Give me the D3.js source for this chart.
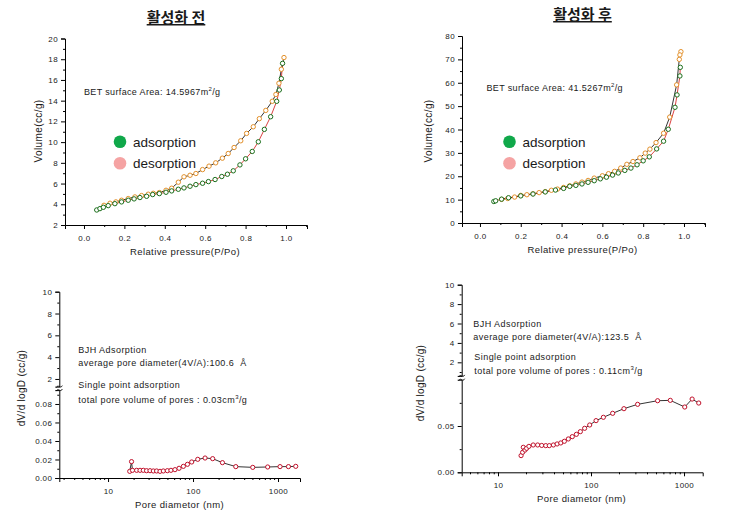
<!DOCTYPE html>
<html><head><meta charset="utf-8">
<script src="https://cdn.jsdelivr.net/npm/d3@7"></script>
<style>
body{margin:0;background:#fff}
svg{display:block}
text{font-family:"Liberation Sans",Arial,sans-serif;fill:#1a1a1a;white-space:pre}
</style>
</head><body>
<svg id="c" width="748" height="512"></svg>
<script>
// ---------------- DATA ----------------
const titles = ["활성화 전", "활성화 후"];
const legendLabels = ["adsorption", "desorption"];
const betLabels = ["BET surface Area: 14.5967m", "BET surface Area: 41.5267m"];
const pressureTicks = [0.0, 0.2, 0.4, 0.6, 0.8, 1.0];
const volTicksBefore = [2, 4, 6, 8, 10, 12, 14, 16, 18, 20];
const volTicksAfter = [0, 10, 20, 30, 40, 50, 60, 70, 80];
const poreTicks = [10, 100, 1000];
const upperTicks = [2, 4, 6, 8, 10];
const lowerTicksBefore = [0.00, 0.02, 0.04, 0.06, 0.08];
const lowerTicksAfter = [0.00, 0.05];

// 활성화 전 isotherm
const beforeAdsP = [0.063,0.079,0.096,0.12,0.153,0.186,0.219,0.248,0.277,0.31,0.34,0.373,0.406,0.434,0.467,0.495,0.525,0.554,0.587,0.616,0.649,0.682,0.71,0.739,0.772,0.8,0.833,0.863,0.893,0.924,0.954,0.967,0.977,0.983];
const beforeAdsV = [3.45,3.58,3.71,3.87,4.06,4.23,4.39,4.52,4.65,4.77,4.94,5.03,5.16,5.29,5.45,5.58,5.74,5.9,6.03,6.19,6.39,6.68,6.9,7.23,7.8,8.39,9.1,10.03,11.23,12.45,13.94,15.03,16.13,17.6];
const beforeDesP = [0.99,0.977,0.965,0.95,0.932,0.9,0.868,0.838,0.805,0.776,0.743,0.714,0.685,0.652,0.619,0.587,0.554,0.525,0.495,0.467,0.434,0.406,0.373,0.343,0.318,0.285,0.252,0.219,0.186,0.158,0.129,0.099];
const beforeDesV = [18.16,17.03,15.68,14.6,13.94,13.06,12.26,11.48,10.84,10.13,9.48,8.9,8.45,8.0,7.68,7.35,6.97,6.8,6.65,6.13,5.55,5.35,5.13,5.06,4.97,4.84,4.71,4.55,4.39,4.23,4.1,3.9];

// 활성화 후 isotherm
const afterAdsP = [0.068,0.077,0.106,0.14,0.2,0.26,0.32,0.37,0.41,0.44,0.47,0.50,0.53,0.56,0.59,0.62,0.65,0.678,0.71,0.74,0.77,0.80,0.83,0.866,0.9,0.923,0.956,0.966,0.98,0.982];
const afterAdsV = [9.2,9.5,10.2,10.8,11.6,12.4,13.3,14.1,14.8,15.7,16.1,16.7,17.4,18.1,18.9,19.6,20.5,21.4,22.5,23.5,24.9,26.6,28.3,31.7,35.0,40.1,49.5,54.8,62.9,66.6];
const afterDesP = [0.985,0.98,0.977,0.964,0.93,0.9,0.863,0.833,0.81,0.784,0.75,0.72,0.69,0.66,0.63,0.6,0.56,0.53,0.5,0.47,0.44,0.41,0.38,0.35,0.32,0.29,0.26,0.23,0.2,0.17,0.136,0.106];
const afterDesV = [73.3,71.9,70.0,59.1,45.3,38.4,34.4,31.6,29.9,27.9,26.3,25.1,23.5,22.1,21.1,20.2,19.2,18.2,17.5,16.7,15.9,15.2,14.5,14.0,13.4,13.0,12.5,12.1,11.8,11.1,10.5,10.1];

// BJH pore size distributions
const poreBeforeD = [18.0,18.9,19.4,21.7,23.8,26.0,28.4,31.2,34.1,37.3,40.9,44.7,49.9,55.0,61.3,68.5,77.0,86.0,96.5,113.7,138.6,170.3,221.9,318.6,504.5,756,1057,1327,1617];
const poreBeforeV = [0.0072,0.0177,0.0083,0.0083,0.0083,0.0083,0.0079,0.0079,0.0076,0.0076,0.0072,0.0076,0.0079,0.0083,0.009,0.0105,0.0126,0.0148,0.0173,0.0202,0.0216,0.0209,0.0166,0.0123,0.0115,0.0119,0.0123,0.0123,0.0126];
const poreAfterD = [17.7,18.4,18.7,19.5,20.3,21.5,23.9,26.7,29.5,32.6,35.6,39.4,43.2,47.3,51.7,57.0,62.9,69.6,76.8,85.4,96.8,113.3,135.8,170.9,226,317,520,712,1018,1222,1440];
const poreAfterV = [0.018,0.0216,0.027,0.024,0.0259,0.028,0.0295,0.0295,0.029,0.0288,0.0288,0.0295,0.0306,0.0317,0.0335,0.036,0.0385,0.041,0.0439,0.0475,0.0511,0.0558,0.0594,0.0637,0.0687,0.0734,0.0773,0.0777,0.0705,0.0791,0.0748];

const bjhBefore = ["BJH Adsorption", "average pore diameter(4V/A):100.6  Å", "Single point adsorption", "total pore volume of pores : 0.03cm"];
const bjhAfter = ["BJH Adsorption", "average pore diameter(4V/A):123.5  Å", "Single point adsorption", "total pore volume of pores : 0.11cm"];

// ---------------- DRAW ----------------
const svg = d3.select("#c");
const ADS = "#1b6e1b", DES = "#e3902a", PORE = "#c0102a";

function styleAxis(g){
  g.selectAll(".domain").attr("stroke","#000").attr("stroke-width",1);
  g.selectAll(".tick line").attr("stroke","#000");
  g.selectAll(".tick text").style("font-size","8px").style("letter-spacing","0.4px").attr("fill","#1a1a1a");
}
function minorAxis(g, axis){ g.call(axis); g.select(".domain").remove(); g.selectAll(".tick text").remove(); g.selectAll(".tick line").attr("stroke","#000"); }

function sup(textSel, main, s, tail){
  textSel.append("tspan").text(main);
  textSel.append("tspan").text(s).attr("dy",-4).style("font-size","6px");
  textSel.append("tspan").text(tail).attr("dy",4);
}

function isotherm(o){
  const g = svg.append("g");
  const x = d3.scaleLinear().domain(o.xd).range(o.xr);
  const y = d3.scaleLinear().domain(o.yd).range(o.yr);
  g.append("text").attr("x",o.tx).attr("y",o.ty).attr("text-anchor","middle")
    .style("font-family","'Noto Sans CJK KR',sans-serif").style("font-size","15px").style("font-weight","bold")
    .attr("text-decoration","underline").text(o.title);
  const xa = g.append("g").attr("transform",`translate(0,${o.yr[0]})`);
  xa.append("g").call(g2=>minorAxis(g2, d3.axisBottom(x).tickValues(o.xMinor).tickSize(2)));
  xa.append("g").call(d3.axisBottom(x).tickValues(pressureTicks).tickFormat(d3.format(".1f")).tickSize(4).tickPadding(6)).call(styleAxis);
  const ya = g.append("g").attr("transform",`translate(${o.xr[0]},0)`);
  ya.append("g").call(g2=>minorAxis(g2, d3.axisLeft(y).tickValues(o.yMinor).tickSize(2)));
  ya.append("g").call(d3.axisLeft(y).tickValues(o.yTicks).tickFormat(d3.format("d")).tickSize(4).tickPadding(3)).call(styleAxis);
  g.append("text").attr("x",o.xtx).attr("y",o.xty).attr("text-anchor","middle").style("font-size","9.5px").style("letter-spacing","0.4px").text("Relative pressure(P/Po)");
  g.append("text").attr("transform",`translate(${o.ytx},${o.yty}) rotate(-90)`).attr("text-anchor","middle").style("font-size","10px").style("letter-spacing","0.4px").text("Volume(cc/g)");
  const line = (P,V)=>d3.line().x((d,i)=>x(P[i])).y((d,i)=>y(V[i]))(P);
  g.append("path").attr("d",line(o.adsP,o.adsV)).attr("fill","none").attr("stroke","#d01010").attr("stroke-width",0.8);
  g.append("path").attr("d",line(o.desP,o.desV)).attr("fill","none").attr("stroke","#000").attr("stroke-width",0.8);
  g.append("g").selectAll("circle").data(o.desP).join("circle")
    .attr("cx",(d)=>x(d)).attr("cy",(d,i)=>y(o.desV[i])).attr("r",2.2)
    .attr("fill","#fff").attr("stroke",DES).attr("stroke-width",1);
  g.append("g").selectAll("circle").data(o.adsP).join("circle")
    .attr("cx",(d)=>x(d)).attr("cy",(d,i)=>y(o.adsV[i])).attr("r",2.2)
    .attr("fill","#fff").attr("stroke",ADS).attr("stroke-width",1);
  const bt = g.append("text").attr("x",o.bx).attr("y",o.by).style("font-size","9px").style("letter-spacing","0.35px");
  sup(bt, o.bet, "2", "/g");
  const leg = [["#10a84a",legendLabels[0]],["#f5a3a3",legendLabels[1]]];
  leg.forEach((l,i)=>{
    g.append("circle").attr("cx",o.lx).attr("cy",o.ly+i*21.5).attr("r",6.3).attr("fill",l[0]);
    g.append("text").attr("x",o.lx+13).attr("y",o.ly+i*21.5+4.8).style("font-size","13.5px").text(l[1]);
  });
}

isotherm({title:titles[0], tx:176, ty:23,
  xd:[-0.094,1.104], xr:[65,307], yd:[2,20], yr:[225,38.5],
  xMinor:[0.1,0.3,0.5,0.7,0.9,1.1], yMinor:[3,5,7,9,11,13,15,17,19], yTicks:volTicksBefore,
  xtx:185, xty:255, ytx:42, yty:131,
  adsP:beforeAdsP, adsV:beforeAdsV, desP:beforeDesP, desV:beforeDesV,
  bet:betLabels[0], bx:84, by:94.5, lx:120, ly:141.7});

isotherm({title:titles[1], tx:582.5, ty:20,
  xd:[-0.088,1.103], xr:[462,705], yd:[0,80], yr:[223,36],
  xMinor:[0.1,0.3,0.5,0.7,0.9,1.1], yMinor:[5,15,25,35,45,55,65,75], yTicks:volTicksAfter,
  xtx:582.5, xty:253, ytx:432, yty:131,
  adsP:afterAdsP, adsV:afterAdsV, desP:afterDesP, desV:afterDesV,
  bet:betLabels[1], bx:486.5, by:91, lx:509.5, ly:141.7});

function poreChart(o){
  const g = svg.append("g");
  const x = d3.scaleLog().domain(o.xd).range(o.xr);
  const yl = d3.scaleLinear().domain(o.ld).range(o.lr);
  const yu = d3.scaleLinear().domain(o.ud).range(o.ur);
  const minors = [];
  [1,10,100,1000].forEach(p=>{for(let k=2;k<=9;k++){const v=p*k; if(v>o.xd[0]&&v<o.xd[1]) minors.push(v);}});
  const xa = g.append("g").attr("transform",`translate(0,${o.lr[0]})`);
  xa.append("g").call(g2=>minorAxis(g2, d3.axisBottom(x).tickValues(minors).tickSize(2)));
  xa.append("g").call(d3.axisBottom(x).tickValues(poreTicks).tickFormat(d3.format("d")).tickSize(4).tickPadding(6)).call(styleAxis);
  const la = g.append("g").attr("transform",`translate(${o.xr[0]},0)`);
  la.append("g").call(g2=>minorAxis(g2, d3.axisLeft(yl).tickValues(o.lMinor).tickSize(2)));
  la.append("g").call(d3.axisLeft(yl).tickValues(o.lTicks).tickFormat(d3.format(".2f")).tickSize(4).tickPadding(3)).call(styleAxis);
  const ua = g.append("g").attr("transform",`translate(${o.xr[0]},0)`);
  ua.append("g").call(g2=>minorAxis(g2, d3.axisLeft(yu).tickValues([1,3,5,7,9].filter(v=>v>=o.ud[0])).tickSize(2)));
  ua.append("g").call(d3.axisLeft(yu).tickValues(upperTicks).tickFormat(d3.format("d")).tickSize(4).tickPadding(3)).call(styleAxis);
  const bx = o.xr[0];
  [o.ur[0], o.lr[1]].forEach((yy)=>{
    g.append("path").attr("d",`M${bx-3},${yy+1} C${bx-1},${yy-3} ${bx+1},${yy+3} ${bx+3},${yy-1}`).attr("fill","none").attr("stroke","#000").attr("stroke-width",0.9);
  });
  g.append("text").attr("x",o.xtx).attr("y",o.xty).attr("text-anchor","middle").style("font-size","9.5px").style("letter-spacing","0.4px").text("Pore diametor (nm)");
  g.append("text").attr("transform",`translate(${o.ytx},${o.yty}) rotate(-90)`).attr("text-anchor","middle").style("font-size","10px").style("letter-spacing","0.3px").text("dV/d logD (cc/g)");
  const line = d3.line().x((d,i)=>x(o.D[i])).y((d,i)=>yl(o.V[i]));
  g.append("path").attr("d",line(o.D)).attr("fill","none").attr("stroke","#000").attr("stroke-width",0.8);
  g.append("g").selectAll("circle").data(o.D).join("circle")
    .attr("cx",d=>x(d)).attr("cy",(d,i)=>yl(o.V[i])).attr("r",2.1)
    .attr("fill","#fff").attr("stroke",PORE).attr("stroke-width",1);
  o.ann.forEach((s,i)=>{
    const t = g.append("text").attr("x",o.ax[i]).attr("y",o.ay[i]).style("font-size","9px").style("letter-spacing","0.45px");
    if(i===3) sup(t, s, "3", "/g"); else t.text(s);
  });
}

poreChart({xd:[2.67,1815], xr:[59.3,300], ld:[0,0.095], lr:[478,390.1], ud:[1.3,10], ur:[386.6,291.7],
  lTicks:lowerTicksBefore, lMinor:[0.01,0.03,0.05,0.07,0.09],
  xtx:179.5, xty:507.5, ytx:25, yty:388,
  D:poreBeforeD, V:poreBeforeV, ann:bjhBefore, ax:[78.3,78.3,78.3,78.3], ay:[352.5,365.5,388,402.5]});

poreChart({xd:[4.07,1588], xr:[461.7,702.7], ld:[0,0.1], lr:[472.3,379.7], ud:[0.6,10], ur:[375.9,284.7],
  lTicks:lowerTicksAfter, lMinor:[0.025,0.075],
  xtx:581.5, xty:502, ytx:424, yty:383,
  D:poreAfterD, V:poreAfterV, ann:bjhAfter, ax:[473.3,473.3,474.3,474.3], ay:[327,340,359.5,374]});
</script>
</body></html>
